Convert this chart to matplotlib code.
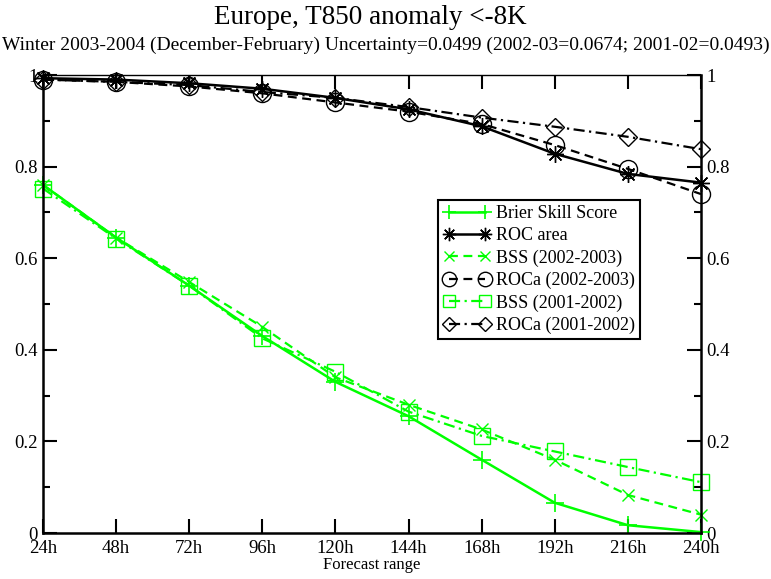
import matplotlib
matplotlib.use("Agg")
import matplotlib.pyplot as plt

plt.rcParams["font.family"] = ["Liberation Serif", "DejaVu Serif"]

# forecast ranges (hours) and skill scores
HOURS = [24, 48, 72, 96, 120, 144, 168, 192, 216, 240]
BSS = [0.760, 0.645, 0.540, 0.430, 0.330, 0.255, 0.160, 0.066, 0.017, 0.002]
ROC = [0.993, 0.990, 0.982, 0.970, 0.950, 0.925, 0.888, 0.828, 0.784, 0.765]
BSS_0203 = [0.760, 0.645, 0.548, 0.450, 0.340, 0.280, 0.226, 0.160, 0.083, 0.040]
ROCA_0203 = [0.990, 0.985, 0.975, 0.960, 0.940, 0.920, 0.893, 0.847, 0.795, 0.740]
BSS_0102 = [0.752, 0.643, 0.540, 0.425, 0.352, 0.265, 0.212, 0.178, 0.144, 0.111]
ROCA_0102 = [0.990, 0.985, 0.978, 0.963, 0.950, 0.930, 0.907, 0.887, 0.865, 0.838]

GREEN = "#00ff00"
DASH = (0, (4, 2.5))
DASHDOT = (0, (5, 2, 1, 2))

fig = plt.figure(figsize=(7.71, 5.79), dpi=100)
ax = fig.add_axes([43 / 771, 1 - 533 / 579, 658 / 771, 458 / 579])

ax.plot(HOURS, BSS, color=GREEN, lw=1.8, ls="-", marker="+", ms=13, mew=1.2,
        label="Brier Skill Score", clip_on=False)
ax.plot(HOURS, ROC, color="black", lw=1.8, ls="-", marker=(8, 2, 0), ms=12, mew=1.0,
        label="ROC area", clip_on=False)
ax.plot(HOURS, BSS_0203, color=GREEN, lw=1.6, ls=DASH, marker="x", ms=9, mew=1.0,
        label="BSS (2002-2003)", clip_on=False)
ax.plot(HOURS, ROCA_0203, color="black", lw=1.6, ls=DASH, marker="o", ms=13,
        mfc="none", mew=1.0, label="ROCa (2002-2003)", clip_on=False)
ax.plot(HOURS, BSS_0102, color=GREEN, lw=1.6, ls=DASHDOT, marker="s", ms=11,
        mfc="none", mew=1.0, label="BSS (2001-2002)", clip_on=False)
ax.plot(HOURS, ROCA_0102, color="black", lw=1.6, ls=DASHDOT, marker="D", ms=9,
        mfc="none", mew=1.0, label="ROCa (2001-2002)", clip_on=False)

ax.set_xlim(24, 240)
ax.set_ylim(0, 1)
ax.set_xticks(HOURS)
ax.set_xticklabels([f"{h}h" for h in HOURS])
ax.set_yticks([0, 0.2, 0.4, 0.6, 0.8, 1.0])
ax.set_yticklabels(["0", "0.2", "0.4", "0.6", "0.8", "1"])
ax.set_yticks([0.1, 0.3, 0.5, 0.7, 0.9], minor=True)
ax.tick_params(axis="both", which="major", direction="in", length=10, width=1.5,
               labelsize=13.5, top=True, right=True, labelright=True, pad=4)
ax.tick_params(axis="y", which="minor", direction="in", length=5, width=1.5,
               right=True, left=True)
ax.tick_params(axis="x", which="major", pad=5)
for side in ("left", "bottom", "right"):
    ax.spines[side].set_linewidth(1.8)
ax.spines["top"].set_linewidth(1.0)

ax.set_xlabel("Forecast range", fontsize=12, labelpad=0)

fig.text(370 / 771, 1 - 17 / 579, "Europe, T850 anomaly <-8K", ha="center", va="center",
         fontsize=19.5)
fig.text(0.5, 1 - 45 / 579,
         "Winter 2003-2004 (December-February) Uncertainty=0.0499 "
         "(2002-03=0.0674; 2001-02=0.0493)",
         ha="center", va="center", fontsize=14)

# legend handles carry a marker at each end of the sample line
leg = ax.legend(loc="upper left", bbox_to_anchor=((438 - 43) / 658, (533 - 200) / 458),
                fontsize=13, frameon=True, fancybox=False, framealpha=1,
                edgecolor="black", numpoints=2, handlelength=2.6, handletextpad=0.3,
                labelspacing=0.28, borderpad=0.3, borderaxespad=0, markerscale=0.8)
leg.get_frame().set_linewidth(1.5)

fig.savefig("out.png", dpi=100)
